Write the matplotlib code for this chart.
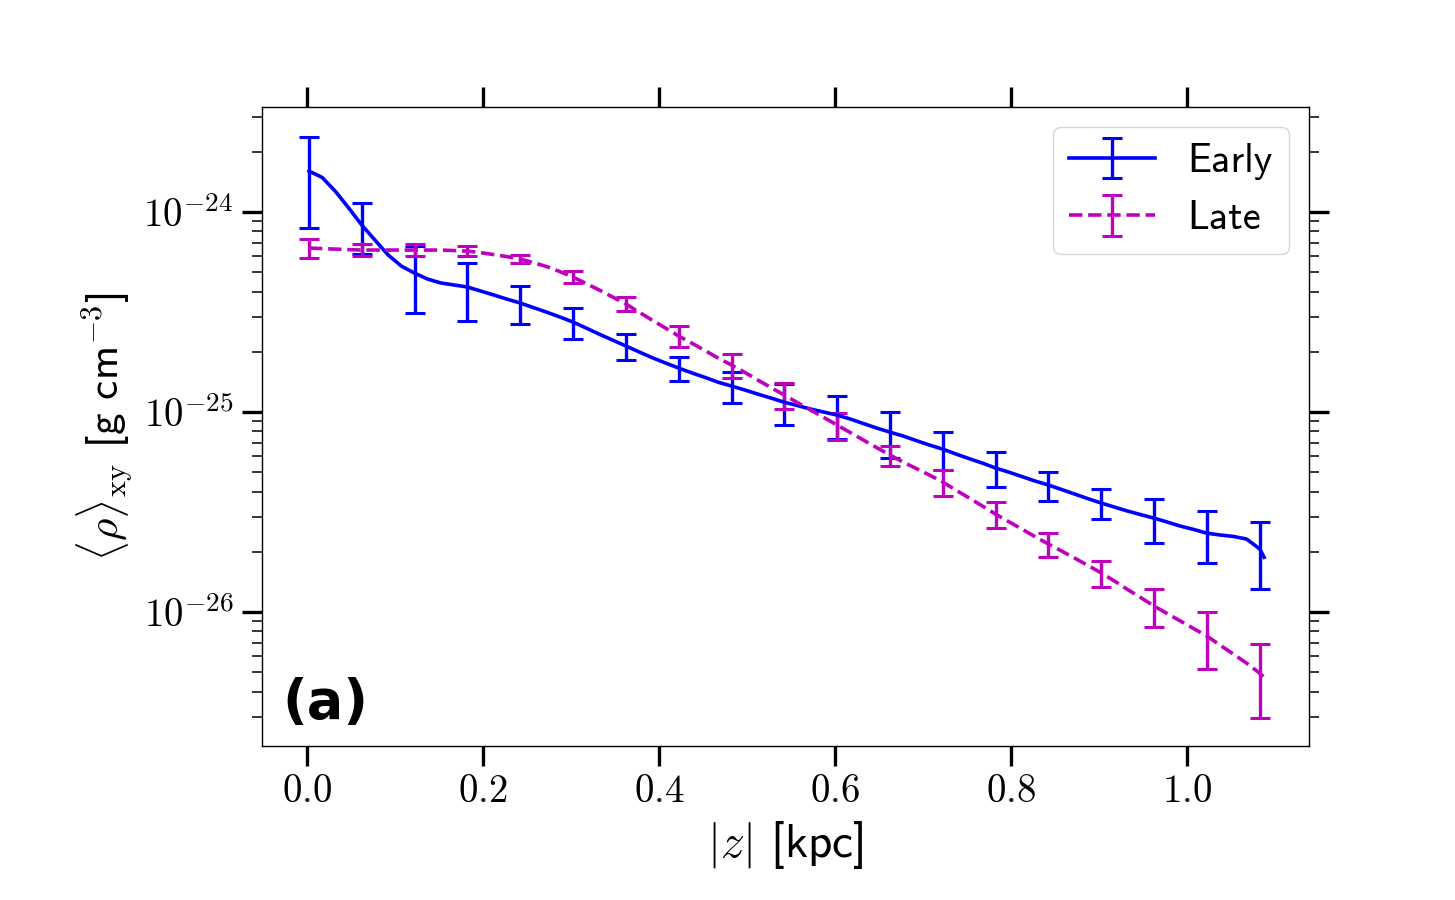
import numpy as np
import matplotlib
matplotlib.use("Agg")
import matplotlib.pyplot as plt
from matplotlib.ticker import FixedLocator, FuncFormatter, LogLocator, NullLocator

plt.rcParams["mathtext.fontset"] = "cm"
plt.rcParams["font.family"] = ["cmss10", "DejaVu Sans"]
plt.rcParams["axes.formatter.use_mathtext"] = True

# |z| grid [kpc]: 73 samples every 0.015 kpc plus the last profile point
z = np.round(np.append(0.0025 + 0.015 * np.arange(73), 1.0875), 4)

# mean density, units of 1e-25 g cm^-3
early = [16.03, 14.9, 12.7, 10.5, 8.61, 7.24, 6.10, 5.37, 4.95, 4.62,
         4.42, 4.32, 4.22, 4.03, 3.85, 3.67, 3.51, 3.33, 3.16, 2.99,
         2.82, 2.63, 2.45, 2.29, 2.14, 2.00, 1.87, 1.76, 1.66, 1.57,
         1.49, 1.41, 1.35, 1.29, 1.23, 1.175, 1.12, 1.078, 1.035, 1.00,
         0.966, 0.923, 0.876, 0.832, 0.794, 0.759, 0.720, 0.684, 0.653, 0.617,
         0.585, 0.556, 0.525, 0.501, 0.476, 0.452, 0.432, 0.410, 0.389, 0.369,
         0.351, 0.335, 0.320, 0.307, 0.295, 0.282, 0.269, 0.259, 0.248, 0.243,
         0.239, 0.232, 0.207, 0.188]
late = [6.61, 6.57, 6.53, 6.49, 6.46, 6.46, 6.46, 6.46, 6.46, 6.46,
        6.46, 6.42, 6.38, 6.27, 6.13, 5.99, 5.82, 5.59, 5.34, 5.04,
        4.73, 4.39, 4.07, 3.76, 3.47, 3.16, 2.88, 2.63, 2.40, 2.21,
        2.03, 1.86, 1.72, 1.58, 1.445, 1.326, 1.216, 1.115, 1.023, 0.939,
        0.861, 0.790, 0.724, 0.664, 0.610, 0.562, 0.522, 0.484, 0.447, 0.407,
        0.372, 0.339, 0.309, 0.283, 0.260, 0.238, 0.219, 0.202, 0.186, 0.171,
        0.157, 0.143, 0.1296, 0.1181, 0.1072, 0.0983, 0.0902, 0.0827, 0.0759, 0.0684,
        0.0617, 0.0556, 0.0495, 0.0473]

# errors at every 4th sample (every 0.06 kpc), same units
early_err = [7.75, 2.46, 1.82, 1.35, 0.74, 0.50, 0.31, 0.235, 0.24, 0.26,
             0.233, 0.207, 0.14, 0.105, 0.072, 0.06, 0.074, 0.073, 0.076]
late_err = [0.69, 0.45, 0.45, 0.37, 0.27, 0.33, 0.28, 0.29, 0.235, 0.18,
            0.133, 0.07, 0.065, 0.045, 0.03, 0.024, 0.023, 0.024, 0.020]

xticks = [0.0, 0.2, 0.4, 0.6, 0.8, 1.0]
yticks = [1e-26, 1e-25, 1e-24]

unit = 1e-25
early = np.array(early) * unit
late = np.array(late) * unit
early_e = np.zeros(len(z))
early_e[:73:4] = np.array(early_err) * unit
late_e = np.zeros(len(z))
late_e[:73:4] = np.array(late_err) * unit

fig = plt.figure(figsize=(14.55, 9), dpi=100)
ax = fig.add_axes([0.180, 0.171, 0.7197, 0.710])

ax.errorbar(z, early, yerr=early_e, errorevery=(0, 4), color="b", ls="-",
            lw=2.6, elinewidth=2.4, capsize=7, capthick=2.2, label="Early")
ax.errorbar(z, late, yerr=late_e, errorevery=(0, 4), color="m", ls="--",
            lw=2.6, elinewidth=2.4, capsize=7, capthick=2.2, label="Late")

ax.set_yscale("log")
ax.set_xlim(-0.051, 1.1386)
ax.set_ylim(10 ** -26.67, 10 ** -23.475)

ax.xaxis.set_major_locator(FixedLocator(xticks))
ax.xaxis.set_major_formatter(FuncFormatter(lambda v, p: r"$%.1f$" % v))
ax.xaxis.set_minor_locator(NullLocator())
ax.yaxis.set_major_locator(FixedLocator(yticks))
ax.yaxis.set_major_formatter(FuncFormatter(lambda v, p: r"$10^{%d}$" % round(np.log10(v))))
ax.yaxis.set_minor_locator(LogLocator(base=10, subs=np.arange(2, 10), numticks=20))

ax.tick_params(which="both", direction="out", top=True, right=True, labelsize=28)
ax.tick_params(which="major", length=14.5, width=2.4, pad=6)
ax.tick_params(which="minor", length=7.5, width=1.1)
for s in ax.spines.values():
    s.set_linewidth(1.0)

ax.set_xlabel(r"$|z|$ [kpc]", fontsize=34, labelpad=7)
ax.set_ylabel(r"$\langle\rho\rangle_{\rm xy}$ [g cm$^{-3}$]", fontsize=31, labelpad=6)

ax.legend(loc="upper right", fontsize=29, handlelength=2.15, labelspacing=0.5,
          borderaxespad=0.5)
ax.text(0.02, 0.044, "(a)", transform=ax.transAxes, fontsize=39,
        fontweight="bold", family="DejaVu Sans", va="baseline", ha="left")

fig.savefig("out.png", dpi=100)
